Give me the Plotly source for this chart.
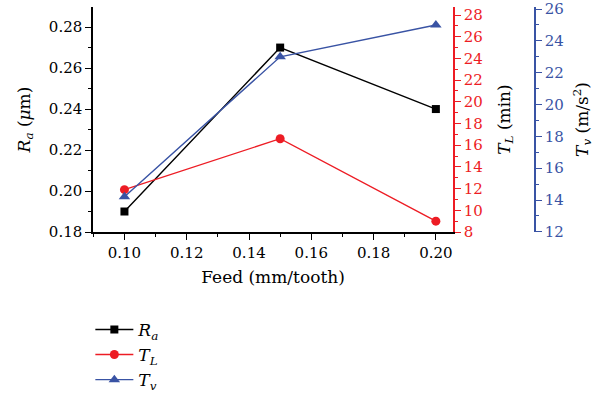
import plotly.graph_objects as go

feed = [0.10, 0.15, 0.20]
ra = [0.19, 0.27, 0.24]
tl = [11.9, 16.6, 9.0]
tv = [14.2, 23.0, 25.0]

BLACK = "#000000"
RED = "#ED1C24"
BLUE = "#3953A4"
FONT = "DejaVu Serif"
TICK_FS = 15
TITLE_FS = 17

fig = go.Figure()
fig.add_trace(go.Scatter(x=feed, y=ra, name="<i>R</i><sub><i>a</i></sub>", mode="lines+markers",
                         line=dict(color=BLACK, width=1.4),
                         marker=dict(symbol="square", size=8, color=BLACK), yaxis="y"))
fig.add_trace(go.Scatter(x=feed, y=tl, name="<i>T</i><sub><i>L</i></sub>", mode="lines+markers",
                         line=dict(color=RED, width=1.4),
                         marker=dict(symbol="circle", size=9, color=RED), yaxis="y2"))
fig.add_trace(go.Scatter(x=feed, y=tv, name="<i>T</i><sub><i>v</i></sub>", mode="lines+markers",
                         line=dict(color=BLUE, width=1.4),
                         marker=dict(symbol="triangle-up", size=10, color=BLUE), yaxis="y3"))

common = dict(showline=True, linewidth=1.5, ticks="outside", ticklen=6, tickwidth=1.3,
              showgrid=False, zeroline=False)
title_font = dict(family=FONT, size=TITLE_FS, color="black")

fig.update_layout(
    width=597, height=395,
    margin=dict(l=93, r=62, t=7, b=163, autoexpand=False),
    paper_bgcolor="white", plot_bgcolor="white",
    font=dict(family=FONT, size=TICK_FS, color="black"),
    xaxis=dict(domain=[0, 360/442], range=[0.0899, 0.2055], dtick=0.02, tick0=0.10,
               tickformat=".2f", linecolor=BLACK, tickcolor=BLACK,
               minor=dict(dtick=0.01, tick0=0.09, ticklen=3, tickcolor=BLACK, ticks="outside"),
               title=dict(text="Feed (mm/tooth)", standoff=10, font=title_font), **common),
    yaxis=dict(range=[0.18, 0.2898], dtick=0.02, tick0=0.18, tickformat=".2f",
               linecolor=BLACK, tickcolor=BLACK,
               minor=dict(dtick=0.01, ticklen=3, tickcolor=BLACK, ticks="outside"),
               title=dict(text="<i>R</i><sub><i>a</i></sub> (<i>μ</i>m)", standoff=14, font=title_font),
               **common),
    yaxis2=dict(range=[8, 28.74], dtick=2, tick0=8, overlaying="y", side="right", anchor="x",
                linecolor=RED, tickcolor=RED, tickfont=dict(color=RED),
                minor=dict(dtick=1, ticklen=3, tickcolor=RED, ticks="outside"),
                title=dict(text="<i>T</i><sub><i>L</i></sub> (min)", standoff=16, font=title_font),
                **common),
    yaxis3=dict(range=[11.99, 26.13], dtick=2, tick0=12, overlaying="y", side="right", anchor="free",
                position=1.0, linecolor=BLUE, tickcolor=BLUE, tickfont=dict(color=BLUE),
                ticklabeloverflow="allow",
                minor=dict(dtick=1, ticklen=3, tickcolor=BLUE, ticks="outside"),
                title=dict(text="<i>T</i><sub><i>v</i></sub> (m/s<sup>2</sup>)", standoff=12,
                           font=title_font),
                **common),
    legend=dict(x=-0.006, y=-0.355, xanchor="left", yanchor="top", bgcolor="rgba(0,0,0,0)",
                font=dict(size=17), tracegroupgap=0, itemwidth=38),
    showlegend=True,
)

fig.write_html("out.html")
